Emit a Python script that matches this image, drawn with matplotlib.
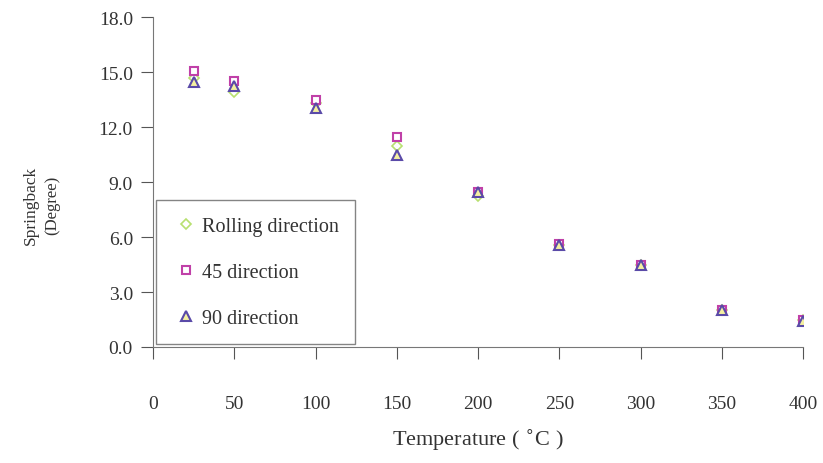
import numpy as np
import matplotlib.pyplot as plt

plt.rcParams['font.family'] = ['Liberation Serif', 'DejaVu Serif']

temps = np.array([25, 50, 100, 150, 200, 250, 300, 350, 400])
rolling = np.array([14.7, 13.9, 13.3, 10.95, 8.25, 5.55, 4.45, 2.0, 1.45])
dir45 = np.array([15.05, 14.5, 13.5, 11.45, 8.45, 5.6, 4.45, 2.0, 1.45])
dir90 = np.array([14.45, 14.25, 13.05, 10.45, 8.45, 5.55, 4.45, 2.0, 1.4])

fig = plt.figure(figsize=(8.23, 4.64), dpi=100)
ax = fig.add_axes([0.186, 0.25, 0.79, 0.711])

ax.plot(temps, rolling, 'D', ms=5, mfc='white', mec='#b8e070', mew=1.2, label='Rolling direction')
ax.plot(temps, dir45, 's', ms=6.2, mfc='white', mec='#c040a8', mew=1.5, label='45 direction')
ax.plot(temps, dir90, '^', ms=6.8, mfc='#f4f0a0', mec='#5a4aa8', mew=1.5, label='90 direction')

ax.set_xlim(0, 400)
ax.set_ylim(0, 18)
ax.set_xticks(np.arange(0, 401, 50))
ax.set_yticks(np.arange(0, 18.1, 3))
ax.set_yticklabels(['%.1f' % v for v in np.arange(0, 18.1, 3)])

for s in ['top', 'right']:
    ax.spines[s].set_visible(False)
for s in ['left', 'bottom']:
    ax.spines[s].set_color('#777777')
ax.tick_params(axis='both', direction='out', length=8.5, color='#555555', labelsize=14, labelcolor='#333333')
ax.tick_params(axis='x', pad=26)
ax.tick_params(axis='y', pad=6)

ax.set_xlabel('Temperature ( $^{\\circ}$C )', fontsize=16, color='#333333', labelpad=10)
fig.text(0.037, 0.558, 'Springback', rotation=90, fontsize=12.5, color='#333333', ha='center', va='center')
fig.text(0.064, 0.558, '(Degree)', rotation=90, fontsize=12, color='#333333', ha='center', va='center')

leg = ax.legend(loc='lower left', bbox_to_anchor=(0.005, 0.008), borderaxespad=0, fontsize=14.5,
                frameon=True, fancybox=False, edgecolor='#666666', labelspacing=1.35, handletextpad=0.15,
                borderpad=0.8, handlelength=1.3)
leg.get_frame().set_linewidth(1.0)
for t in leg.get_texts():
    t.set_color('#333333')

fig.savefig('out.png', dpi=100)
